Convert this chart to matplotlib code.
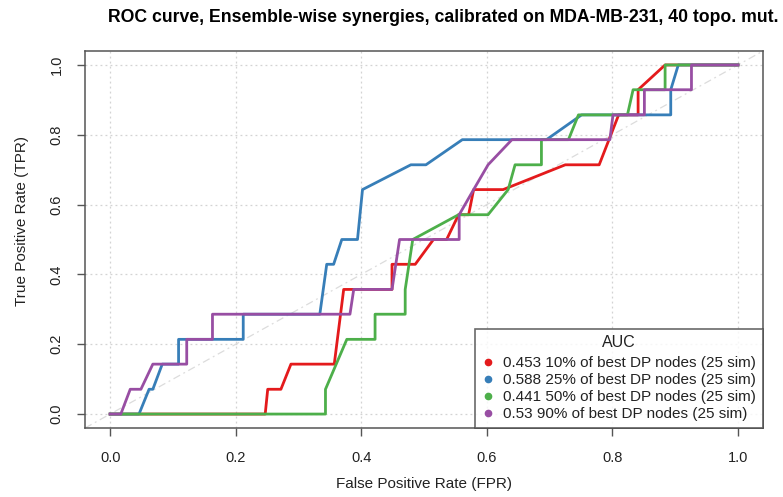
import matplotlib
matplotlib.use("Agg")
import matplotlib.pyplot as plt
from matplotlib.lines import Line2D

plt.rcParams['font.family'] = ['Liberation Sans', 'DejaVu Sans']

# ROC points for each ensemble subset (FPR, TPR)
fpr_10 = [0, 0.247, 0.251, 0.272, 0.288, 0.357, 0.372, 0.449, 0.449, 0.486,
          0.515, 0.536, 0.555, 0.571, 0.579, 0.626, 0.725, 0.779, 0.810,
          0.841, 0.841, 0.884, 1.0]
tpr_10 = [0, 0, 0.071, 0.071, 0.143, 0.143, 0.357, 0.357, 0.429, 0.429,
          0.5, 0.5, 0.571, 0.571, 0.643, 0.643, 0.714, 0.714, 0.857,
          0.857, 0.929, 1.0, 1.0]

fpr_25 = [0, 0.046, 0.062, 0.068, 0.083, 0.109, 0.109, 0.212, 0.212, 0.334,
          0.345, 0.356, 0.369, 0.394, 0.402, 0.479, 0.503, 0.561, 0.695,
          0.751, 0.893, 0.893, 0.905, 1.0]
tpr_25 = [0, 0, 0.071, 0.071, 0.143, 0.143, 0.214, 0.214, 0.286, 0.286,
          0.429, 0.429, 0.5, 0.5, 0.643, 0.714, 0.714, 0.786, 0.786,
          0.857, 0.857, 0.929, 1.0, 1.0]

fpr_50 = [0, 0.343, 0.343, 0.377, 0.422, 0.422, 0.470, 0.470, 0.482, 0.555,
          0.602, 0.634, 0.645, 0.687, 0.687, 0.730, 0.746, 0.824, 0.833,
          0.884, 0.884, 1.0]
tpr_50 = [0, 0, 0.071, 0.214, 0.214, 0.286, 0.286, 0.357, 0.5, 0.571,
          0.571, 0.643, 0.714, 0.714, 0.786, 0.786, 0.857, 0.857, 0.929,
          0.929, 1.0, 1.0]

fpr_90 = [0, 0.017, 0.032, 0.049, 0.068, 0.122, 0.122, 0.163, 0.163, 0.382,
          0.388, 0.449, 0.461, 0.556, 0.556, 0.579, 0.602, 0.640, 0.796,
          0.801, 0.851, 0.851, 0.926, 0.926, 1.0]
tpr_90 = [0, 0, 0.071, 0.071, 0.143, 0.143, 0.214, 0.214, 0.286, 0.286,
          0.357, 0.357, 0.5, 0.5, 0.571, 0.643, 0.714, 0.786, 0.786,
          0.857, 0.857, 0.929, 0.929, 1.0, 1.0]

auc_values = ['0.453', '0.588', '0.441', '0.53']
subsets = ['10% of best DP nodes (25 sim)', '25% of best DP nodes (25 sim)',
           '50% of best DP nodes (25 sim)', '90% of best DP nodes (25 sim)']
colors = ['#E41A1C', '#377EB8', '#4DAF4A', '#984EA3']
ticks = [0.0, 0.2, 0.4, 0.6, 0.8, 1.0]

curves = [(fpr_10, tpr_10), (fpr_25, tpr_25), (fpr_50, tpr_50), (fpr_90, tpr_90)]

fig = plt.figure(figsize=(7.83, 4.97), dpi=100)
ax = fig.add_axes([0.1086, 0.1388, 0.8659, 0.7586])

ax.set_xlim(-0.04, 1.04)
ax.set_ylim(-0.04, 1.04)
ax.set_xticks(ticks)
ax.set_yticks(ticks)
ax.set_xticklabels([f'{t:.1f}' for t in ticks])
ax.set_yticklabels([f'{t:.1f}' for t in ticks], rotation=90, va='center')
ax.grid(True, color='#d3d3d3', linestyle=(0, (1.5, 2.5)), linewidth=0.9)
ax.set_axisbelow(True)

# reference diagonal across the whole panel
ax.plot([-0.04, 1.04], [-0.04, 1.04], color='#dcdcdc', linewidth=0.9,
        linestyle=(0, (6, 3, 1.5, 3)), zorder=1)

for (x, y), c in zip(curves, colors):
    ax.plot(x, y, color=c, linewidth=2.0, solid_joinstyle='round', zorder=3)

for s in ax.spines.values():
    s.set_color('#555555')
    s.set_linewidth(1.1)
ax.tick_params(axis='both', colors='#555555', labelcolor='#222222',
               length=5.5, width=1.0, labelsize=10.5)
ax.tick_params(axis='x', pad=11)
ax.tick_params(axis='y', pad=10)

fig.text(424 / 783, 1 - 484 / 497, 'False Positive Rate (FPR)',
         ha='center', va='center', fontsize=11, color='#222222')
fig.text(22 / 783, 1 - 221 / 497, 'True Positive Rate (TPR)', rotation=90,
         ha='center', va='center', fontsize=11, color='#222222')
fig.text(443 / 783, 1 - 17 / 497,
         'ROC curve, Ensemble-wise synergies, calibrated on MDA-MB-231, 40 topo. mut.',
         ha='center', va='center', fontsize=12.7, fontweight='bold')

handles = [Line2D([], [], linestyle='none', marker='o', markersize=4.5,
                  color=c) for c in colors]
labels = [f'{a} {s}' for a, s in zip(auc_values, subsets)]
leg = ax.legend(handles, labels, title='AUC', loc='lower right',
                borderaxespad=0, fancybox=False, frameon=True,
                fontsize=11, title_fontsize=11.5, handlelength=0.8,
                handletextpad=0.6, labelspacing=0.2, borderpad=0.45)
leg._legend_box.sep = 4  # gap under the "AUC" title
leg.get_frame().set_edgecolor('#444444')
leg.get_frame().set_linewidth(1.2)
leg.get_title().set_color('#222222')
for t in leg.get_texts():
    t.set_color('#222222')

fig.savefig('out.png', dpi=100)
